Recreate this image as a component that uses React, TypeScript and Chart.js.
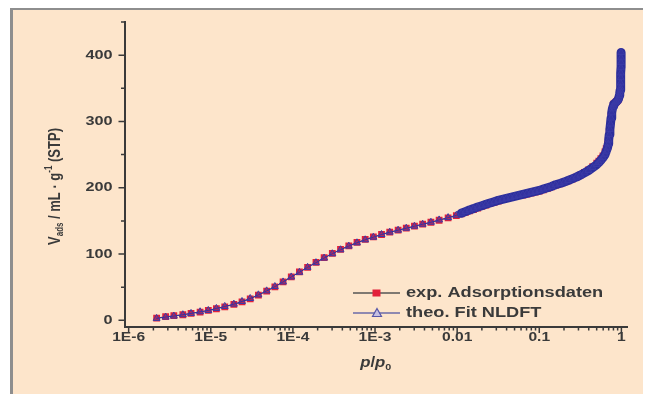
import { useEffect, useRef } from 'react';
import { Chart, registerables } from 'chart.js';

Chart.register(...registerables);

// relative pressure p/p0 (shared by both series)
const pRel = [
  2.19e-6, 2.82e-6, 3.55e-6, 4.57e-6, 5.75e-6, 7.41e-6, 9.33e-6, 1.17e-5, 1.48e-5, 1.91e-5,
  2.40e-5, 3.02e-5, 3.80e-5, 4.79e-5, 6.03e-5, 7.59e-5, 9.55e-5, 1.20e-4, 1.51e-4, 1.91e-4,
  2.40e-4, 3.02e-4, 3.80e-4, 4.79e-4, 6.03e-4, 7.59e-4, 9.55e-4, 1.20e-3, 1.51e-3, 1.91e-3,
  2.40e-3, 3.02e-3, 3.80e-3, 4.79e-3, 6.03e-3, 7.76e-3, 9.77e-3,
  0.0112, 0.0126, 0.0141, 0.0158, 0.0178, 0.0200, 0.0224, 0.0251, 0.0282, 0.0316,
  0.0355, 0.0398, 0.0447, 0.0501, 0.0562, 0.0631, 0.0708, 0.0794, 0.0891, 0.100,
  0.112, 0.126, 0.141, 0.158, 0.178, 0.200, 0.224, 0.251, 0.282, 0.316,
  0.355, 0.398, 0.447, 0.501, 0.531, 0.562, 0.596, 0.631, 0.653, 0.676,
  0.692, 0.700, 0.711, 0.724, 0.736, 0.748, 0.762, 0.776, 0.794, 0.805,
  0.841, 0.871, 0.902, 0.927, 0.944, 0.955, 0.966, 0.973, 0.977, 0.982,
  0.986, 0.989, 0.990, 0.991, 0.993,
];

// exp. Adsorptionsdaten (mL/g STP)
const expV = [
  3.5, 5.5, 7, 8.5, 10.5, 12.5, 15, 17.5, 20.5, 24,
  28, 32.5, 38, 44, 50.5, 58, 65.5, 73, 80, 87.5,
  94.5, 101, 107, 112.5, 117.5, 122, 126, 129.5, 133, 136,
  139, 142, 145, 148, 151, 154.5, 158,
  160.5, 163, 165, 167, 169.5, 172, 174, 176, 178, 180,
  182, 183.5, 185, 186.5, 188, 189, 190.5, 192, 193.5, 195,
  197, 199, 201.5, 204, 206, 208.5, 210.5, 213, 216, 219,
  223, 227, 232, 237, 240, 244, 248, 254, 259, 265,
  271, 277, 285, 292, 300, 308, 315, 320, 324, 326,
  328, 330, 332, 334, 338, 342, 346, 350, 357, 365,
  372, 380, 388, 395, 403,
];

// theo. Fit NLDFT (mL/g STP)
const theoV = [
  3, 5, 6.5, 8.5, 10.5, 13, 15, 18, 21, 24.5,
  28.5, 33, 38.5, 44.5, 51, 58, 65.5, 72.5, 80, 87,
  94, 100.5, 106.5, 112, 117, 121.5, 125.5, 129.5, 133, 136,
  139, 142, 145, 148, 151.5, 155, 158.5,
  161.5, 164, 166.5, 168.5, 171, 173, 175, 177, 179, 181,
  182.5, 184, 185.5, 187, 188.5, 190, 191.5, 193, 194.5, 196,
  198, 200, 202, 204.5, 206.5, 208.5, 211, 213.5, 216, 219,
  222.5, 226, 230.5, 235, 238, 241.5, 245.5, 250, 255, 260,
  266, 272, 280, 288, 296, 305, 313, 319, 323, 326,
  328, 330, 332, 335, 339, 343, 347, 351, 358, 366,
  373, 381, 389, 396, 404,
];

const seriesLabels = ['exp. Adsorptionsdaten', 'theo. Fit NLDFT'];
const xMajorTicks = [1e-6, 1e-5, 1e-4, 1e-3, 0.01, 0.1, 1];
const xTickLabels = ['1E-6', '1E-5', '1E-4', '1E-3', '0.01', '0.1', '1'];
const yMajorTicks = [0, 100, 200, 300, 400];
const yTickLabels = ['0', '100', '200', '300', '400'];
const yMinorTicks = [50, 150, 250, 350, 450];

const BG = '#fde5cb';
const INK = '#3a3a3a';
const FONT = '"Liberation Sans", Arial, sans-serif';
const RED = '#e2203a';
const BLUE = '#2c2e9c';

type Seg = { text: string; font: string; dy: number };

function drawRich(ctx: CanvasRenderingContext2D, segs: Seg[], cx: number, cy: number, sx: number, sy: number) {
  ctx.save();
  ctx.translate(cx, cy);
  ctx.scale(sx, sy);
  let w = 0;
  for (const s of segs) {
    ctx.font = s.font;
    w += ctx.measureText(s.text).width;
  }
  let xx = -w / 2;
  ctx.textAlign = 'left';
  ctx.textBaseline = 'alphabetic';
  for (const s of segs) {
    ctx.font = s.font;
    ctx.fillText(s.text, xx, s.dy);
    xx += ctx.measureText(s.text).width;
  }
  ctx.restore();
}

function drawStretched(ctx: CanvasRenderingContext2D, text: string, x: number, y: number, font: string, sx: number, align: 'left' | 'center' | 'right') {
  ctx.save();
  ctx.font = font;
  const w = ctx.measureText(text).width * sx;
  const x0 = align === 'center' ? x - w / 2 : align === 'right' ? x - w : x;
  ctx.translate(x0, y);
  ctx.scale(sx, 1);
  ctx.textAlign = 'left';
  ctx.textBaseline = 'middle';
  ctx.fillText(text, 0, 0);
  ctx.restore();
}

const decorPlugin = {
  id: 'decor',
  afterDraw(chart: any) {
    const { ctx, chartArea: a } = chart;
    const xs = chart.scales.x;
    const ys = chart.scales.y;
    ctx.save();
    ctx.strokeStyle = INK;
    ctx.fillStyle = INK;
    ctx.lineWidth = 1.5;
    // x ticks
    ctx.beginPath();
    xMajorTicks.forEach((v, i) => {
      const px = xs.getPixelForValue(v);
      ctx.moveTo(px, a.bottom);
      ctx.lineTo(px, a.bottom + 6);
      if (i < xMajorTicks.length - 1) {
        for (let k = 2; k <= 9; k++) {
          const mp = xs.getPixelForValue(v * k);
          ctx.moveTo(mp, a.bottom);
          ctx.lineTo(mp, a.bottom + 3.5);
        }
      }
    });
    // y ticks
    yMajorTicks.forEach((v) => {
      const py = ys.getPixelForValue(v);
      ctx.moveTo(a.left, py);
      ctx.lineTo(a.left - 6, py);
    });
    yMinorTicks.forEach((v) => {
      const py = ys.getPixelForValue(v);
      ctx.moveTo(a.left, py);
      ctx.lineTo(a.left - 3.5, py);
    });
    ctx.stroke();

    const tickFont = `bold 13px ${FONT}`;
    xMajorTicks.forEach((v, i) => {
      drawStretched(ctx, xTickLabels[i], xs.getPixelForValue(v), a.bottom + 10, tickFont, 1.2, 'center');
    });
    yMajorTicks.forEach((v, i) => {
      drawStretched(ctx, yTickLabels[i], a.left - 12, ys.getPixelForValue(v), tickFont, 1.25, 'right');
    });

    // y title
    ctx.save();
    ctx.translate(42, (a.top + a.bottom) / 2 + 12);
    ctx.rotate(-Math.PI / 2);
    drawRich(ctx, [
      { text: 'V', font: `bold 13px ${FONT}`, dy: 0 },
      { text: 'ads', font: `bold 8px ${FONT}`, dy: 3 },
      { text: ' / mL \u00b7 g', font: `bold 13px ${FONT}`, dy: 0 },
      { text: '-1', font: `bold 8px ${FONT}`, dy: -6 },
      { text: ' (STP)', font: `bold 13px ${FONT}`, dy: 0 },
    ], 0, 4.5, 1, 1.3);
    ctx.restore();

    // x title
    drawRich(ctx, [
      { text: 'p', font: `italic bold 14px ${FONT}`, dy: 0 },
      { text: '/', font: `bold 14px ${FONT}`, dy: 0 },
      { text: 'p', font: `italic bold 14px ${FONT}`, dy: 0 },
      { text: '0', font: `bold 9px ${FONT}`, dy: 3 },
    ], (a.left + a.right) / 2, a.bottom + 40, 1.2, 1);

    // legend
    const lx0 = 340, lx1 = 387, tx = 393;
    const r1 = 283, r2 = 303;
    ctx.lineWidth = 1.5;
    ctx.strokeStyle = '#555555';
    ctx.beginPath();
    ctx.moveTo(lx0, r1);
    ctx.lineTo(lx1, r1);
    ctx.stroke();
    ctx.fillStyle = RED;
    ctx.fillRect(359.5, r1 - 3.5, 8, 7);
    ctx.strokeStyle = '#6a6aa8';
    ctx.beginPath();
    ctx.moveTo(lx0, r2);
    ctx.lineTo(lx1, r2);
    ctx.stroke();
    ctx.beginPath();
    ctx.moveTo(364, r2 - 4.5);
    ctx.lineTo(368.5, r2 + 3.5);
    ctx.lineTo(359.5, r2 + 3.5);
    ctx.closePath();
    ctx.fillStyle = '#c6c0e2';
    ctx.fill();
    ctx.strokeStyle = '#5656a8';
    ctx.lineWidth = 1.2;
    ctx.stroke();
    ctx.fillStyle = INK;
    drawStretched(ctx, seriesLabels[0], tx, r1, `bold 14px ${FONT}`, 1.3, 'left');
    drawStretched(ctx, seriesLabels[1], tx, r2, `bold 14px ${FONT}`, 1.3, 'left');
    ctx.restore();
  },
};

export default function App() {
  const ref = useRef<HTMLCanvasElement>(null);
  useEffect(() => {
    const expData = pRel.map((p, i) => ({ x: p, y: expV[i] }));
    const theoData = pRel.map((p, i) => ({ x: p, y: theoV[i] }));
    const chart = new Chart(ref.current as HTMLCanvasElement, {
      type: 'scatter',
      data: {
        datasets: [
          {
            label: seriesLabels[0],
            data: expData,
            showLine: true,
            borderColor: '#6a4060',
            borderWidth: 1,
            pointStyle: 'rect',
            pointRadius: 4.8,
            pointBackgroundColor: RED,
            pointBorderWidth: 0,
            order: 2,
          } as any,
          {
            label: seriesLabels[1],
            data: theoData,
            showLine: true,
            borderColor: BLUE,
            borderWidth: 1,
            borderCapStyle: 'round',
            borderJoinStyle: 'round',
            segment: {
              borderWidth: (c: any) => (c.p0DataIndex >= 37 ? 9 : 1),
            },
            pointStyle: 'triangle',
            pointRadius: 4,
            pointBackgroundColor: 'rgba(70,60,170,0.3)',
            pointBorderColor: '#3a3aa6',
            pointBorderWidth: 1,
            order: 1,
          } as any,
        ],
      },
      options: {
        animation: false,
        responsive: false,
        layout: { padding: { top: 12, right: 24, left: 0, bottom: 0 } },
        plugins: { legend: { display: false }, tooltip: { enabled: false } },
        scales: {
          x: {
            type: 'logarithmic',
            min: 8.9e-7,
            max: 1.17,
            grid: { display: false },
            border: { display: true, color: INK, width: 2 },
            ticks: { display: false },
            afterFit: (s: any) => { s.height = 67; },
          },
          y: {
            type: 'linear',
            min: -10,
            max: 450,
            grid: { display: false },
            border: { display: true, color: INK, width: 2 },
            ticks: { display: false },
            afterFit: (s: any) => { s.width = 111.5; },
          },
        },
      },
      plugins: [decorPlugin],
    });
    return () => chart.destroy();
  }, []);
  return (
    <div
      style={{
        marginLeft: 2,
        width: 638,
        height: 384,
        borderTop: '2px solid #8e8e8e',
        borderLeft: '3px solid #8e8e8e',
        background: BG,
      }}
    >
      <canvas ref={ref} width={638} height={384} style={{ display: 'block', width: 638, height: 384 }} />
    </div>
  );
}
